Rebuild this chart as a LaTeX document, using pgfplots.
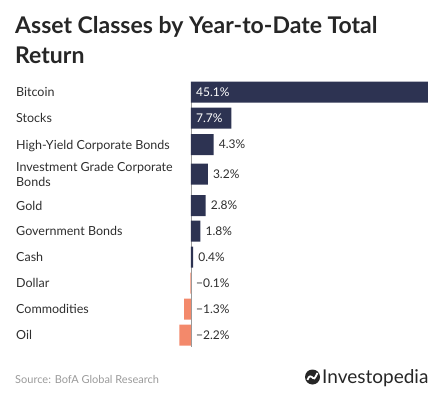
\documentclass[border=0pt]{standalone}
\usepackage{pgfplots}
\pgfplotsset{compat=1.18}
\usepackage{fontspec}
\setmainfont{Lato}
\definecolor{navy}{HTML}{2D3352}
\definecolor{salmon}{HTML}{F3896B}
\definecolor{txt}{HTML}{2E2E2E}
\definecolor{src}{HTML}{9A9A9A}
\begin{document}
\begin{tikzpicture}
\path[use as bounding box] (0,0) rectangle (446bp,-395bp);
\begin{axis}[at={(0,0)}, anchor=north west, scale only axis, width=446bp, height=395bp,
  xmin=-36.346, xmax=48.53, ymin=0, ymax=395, y dir=reverse, axis lines=none, clip=false]
\draw[gray!80, line width=0.8bp] (axis cs:0,82) -- (axis cs:0,347);
\addplot[xbar, bar width=21bp, bar shift=0pt, fill=navy, draw=none] coordinates {(45.1,92) (7.7,118) (4.3,144.5) (3.2,174) (2.8,205.5) (1.8,231) (0.4,257)};
\addplot[xbar, bar width=21bp, bar shift=0pt, fill=salmon, draw=none] coordinates {(-0.1,283) (-1.3,309) (-2.2,335)};
\begin{scope}[every node/.style={font=\fontsize{12bp}{14bp}\selectfont, text=txt, anchor=west, inner sep=0pt}]
\node[text=white] at (axis cs:0,92) [xshift=5bp] {45.1\%};
\node[text=white] at (axis cs:0,118) [xshift=5bp] {7.7\%};
\node at (axis cs:4.3,144.5) [xshift=5bp] {4.3\%};
\node at (axis cs:3.2,174) [xshift=5bp] {3.2\%};
\node at (axis cs:2.8,205.5) [xshift=5bp] {2.8\%};
\node at (axis cs:1.8,231) [xshift=5bp] {1.8\%};
\node at (axis cs:0.4,257) [xshift=5bp] {0.4\%};
\node at (axis cs:0,283) [xshift=5bp] {−0.1\%};
\node at (axis cs:0,309) [xshift=5bp] {−1.3\%};
\node at (axis cs:0,335) [xshift=5bp] {−2.2\%};
\end{scope}
\end{axis}
\begin{scope}[every node/.style={font=\fontsize{12.5bp}{14.5bp}\selectfont, text=txt, anchor=base west, inner sep=0pt}]
\node at (16bp,-96.5bp) {Bitcoin};
\node at (16bp,-122.5bp) {Stocks};
\node at (16bp,-149bp) {High-Yield Corporate Bonds};
\node at (16bp,-171.7bp) {Investment Grade Corporate};
\node at (16bp,-186bp) {Bonds};
\node at (16bp,-210bp) {Gold};
\node at (16bp,-235.5bp) {Government Bonds};
\node at (16bp,-261.5bp) {Cash};
\node at (16bp,-287.5bp) {Dollar};
\node at (16bp,-313.5bp) {Commodities};
\node at (16bp,-339.5bp) {Oil};
\end{scope}
\node[anchor=base west, inner sep=0pt, font=\fontsize{23bp}{28bp}\selectfont\bfseries, text=black!85] at (15bp,-33bp) {Asset Classes by Year-to-Date Total};
\node[anchor=base west, inner sep=0pt, font=\fontsize{23bp}{28bp}\selectfont\bfseries, text=black!85] at (15bp,-63bp) {Return};
\node[anchor=base west, inner sep=0pt, font=\fontsize{11bp}{13bp}\selectfont, text=src] at (15bp,-383bp) {Source: BofA Global Research};
\fill[black!85] (312.5bp,-377bp) circle (7.5bp);
\draw[white, line width=1.8bp] (307.5bp,-380bp) .. controls (309bp,-375bp) and (311bp,-376bp) .. (313bp,-378bp) .. controls (315bp,-380bp) and (316bp,-375bp) .. (317.5bp,-373bp);
\node[anchor=base west, inner sep=0pt, font=\fontsize{19bp}{22bp}\selectfont, text=black!85] at (322bp,-383.5bp) {Investopedia};
\end{tikzpicture}
\end{document}
